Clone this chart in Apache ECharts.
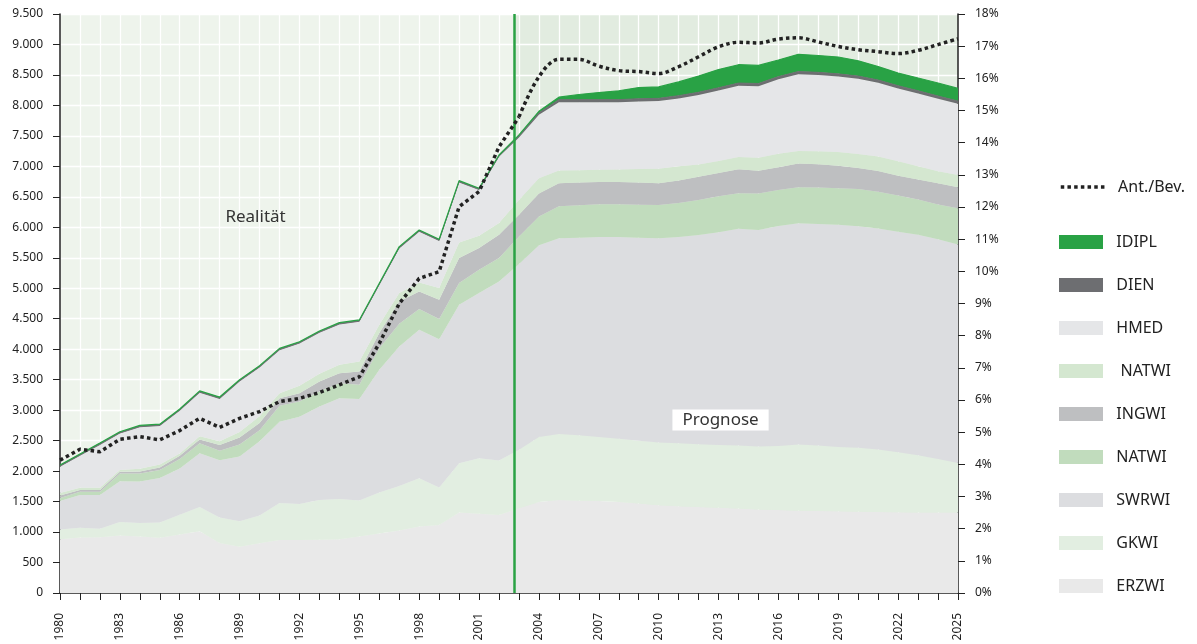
<!DOCTYPE html>
<html>
<head>
<meta charset="utf-8">
<script src="https://cdn.jsdelivr.net/npm/echarts@6/dist/echarts.min.js"></script>
<style>
html,body{margin:0;padding:0;background:#fff}
#main{width:1197px;height:644px}
</style>
</head>
<body>
<div id="main"></div>
<script>
var years = ['1980','1981','1982','1983','1984','1985','1986','1987','1988','1989',
	'1990','1991','1992','1993','1994','1995','1996','1997','1998','1999',
	'2000','2001','2002','2003','2004','2005','2006','2007','2008','2009',
	'2010','2011','2012','2013','2014','2015','2016','2017','2018','2019',
	'2020','2021','2022','2023','2024','2025'];

// stacked layers, bottom to top
var erzwi = [880,910,915,945,925,905,960,1015,820,760,
	815,870,870,875,880,925,975,1025,1090,1115,
	1320,1300,1280,1390,1495,1525,1515,1508,1495,1470,
	1440,1425,1410,1400,1385,1370,1360,1350,1345,1340,
	1335,1330,1325,1322,1320,1320];
var gkwi = [160,162,141,218,224,250,323,395,420,417,
	455,605,590,652,663,591,672,732,793,614,
	809,911,893,960,1065,1082,1075,1052,1035,1030,
	1029,1030,1030,1030,1035,1035,1050,1085,1075,1057,
	1049,1023,984,937,877,813];
var swrwi = [470,534,550,671,681,733,761,885,940,1063,
	1220,1335,1430,1533,1653,1669,2015,2288,2435,2436,
	2600,2710,2939,3050,3146,3212,3240,3280,3310,3330,
	3350,3385,3435,3490,3555,3550,3610,3632,3634,3645,
	3632,3626,3620,3619,3606,3583];
var natwiLow = [50,54,54,126,130,132,156,160,155,195,
	180,261,251,246,247,230,355,372,340,329,
	356,383,383,450,471,527,530,540,540,540,
	547,560,575,590,585,600,594,591,598,598,
	611,604,591,579,573,596];
var ingwi = [40,30,30,30,35,40,50,65,95,115,
	120,125,138,164,164,219,247,367,290,317,
	410,355,383,357,378,378,375,365,365,365,
	358,370,380,380,391,375,371,389,383,372,
	345,339,327,326,345,346];
var natwiUp = [40,35,35,30,45,50,40,50,60,90,
	110,83,120,126,137,164,137,137,147,192,
	257,203,192,243,251,207,200,199,205,220,
	238,230,200,200,203,210,224,207,213,224,
	232,238,238,220,200,201];
var hmed = [430,525,705,595,680,630,700,716,695,830,
	800,704,693,673,662,652,651,732,832,771,
	984,749,1087,1025,1039,1119,1115,1106,1100,1110,
	1109,1115,1141,1155,1168,1175,1219,1257,1250,1237,
	1232,1212,1193,1193,1188,1168];
var dien = [15,15,15,15,15,15,15,15,15,15,
	15,15,15,15,15,15,15,15,15,15,
	15,15,15,25,35,45,45,45,45,45,
	45,45,45,45,45,45,45,45,45,45,
	45,45,45,45,45,45];
var idipl = [15,15,15,15,15,15,15,15,15,15,
	15,15,15,15,15,15,15,15,15,15,
	15,15,15,16,23,40,84,115,146,182,
	188,226,265,298,301,296,272,282,276,276,
	250,220,208,209,214,207];
// Anteil an der Bevoelkerung in %
var antBev = [4.13,4.47,4.39,4.78,4.86,4.76,5.05,5.43,5.15,5.43,
	5.64,5.95,6.05,6.23,6.47,6.72,7.76,9.0,9.78,9.99,
	12.01,12.48,13.87,14.8,16.05,16.59,16.59,16.38,16.24,16.21,
	16.15,16.36,16.67,16.98,17.12,17.1,17.22,17.26,17.13,16.99,
	16.89,16.83,16.77,16.87,17.05,17.23];

var splitYear = 2002.75;
var lastReal = 23; // index of 2003, where the forecast starts

var layers = [
	['ERZWI', erzwi, '#e9e9e9'],
	['GKWI', gkwi, '#e2eee1'],
	['SWRWI', swrwi, '#dcdde0'],
	['NATWI', natwiLow, '#c1dcbd'],
	['INGWI', ingwi, '#bebfc1'],
	[' NATWI', natwiUp, '#d4e7d0'],
	['HMED', hmed, '#e5e6e8'],
	['DIEN', dien, '#6d6e71'],
	['IDIPL', idipl, '#29a245']
];

var series = [];
// background of the plot area (two shades), on the hidden value x axis
series.push({
	type: 'line', data: [], z: -1, silent: true, xAxisIndex: 1,
	markArea: {
		silent: true, z: -1,
		data: [
			[{xAxis: 1980, yAxis: 0, itemStyle: {color: '#eef4ec'}}, {xAxis: splitYear, yAxis: 9500}],
			[{xAxis: splitYear, yAxis: 0, itemStyle: {color: '#e2ece0'}}, {xAxis: 2025, yAxis: 9500}]
		]
	}
});
for (var k = 0; k < layers.length; k++){
	var lw = 0;
	if (layers[k][0] == 'IDIPL') lw = 1.2;
	if (layers[k][0] == 'DIEN') lw = 1;
	series.push({
		name: layers[k][0],
		type: 'line',
		stack: 'all',
		data: layers[k][1],
		symbol: 'none',
		lineStyle: {width: lw, color: layers[k][2]},
		itemStyle: {color: layers[k][2]},
		areaStyle: {color: layers[k][2], opacity: 1},
		z: 2
	});
}
var realPart = antBev.map(function(v, i){ return i <= lastReal ? v : '-'; });
var progPart = antBev.map(function(v, i){ return i >= lastReal ? v : '-'; });
var dotStyle = {color: '#222', width: 3.5, type: [3.5, 3.2]};
series.push({
	name: 'Ant./Bev.', type: 'line', yAxisIndex: 1,
	data: realPart, symbol: 'none',
	lineStyle: dotStyle, itemStyle: {color: '#222'}, z: 6
});
series.push({
	name: 'Ant./Bev.', type: 'line', yAxisIndex: 1, smooth: 0.35,
	data: progPart, symbol: 'none',
	lineStyle: dotStyle, itemStyle: {color: '#222'}, z: 6
});
// divider line and labels
series.push({
	type: 'line', data: [], z: 8, silent: true, xAxisIndex: 1,
	markLine: {
		silent: true, symbol: 'none',
		label: {show: false},
		lineStyle: {color: '#2aa244', width: 2.5, type: 'solid'},
		data: [{xAxis: splitYear}]
	},
	markPoint: {
		silent: true, symbol: 'rect', symbolSize: 0,
		data: [
			{coord: [1989.8, 6170], label: {show: true, formatter: 'Realität', fontSize: 17, color: '#333', fontFamily: 'Noto Sans'}},
			{coord: [2013.1, 2840], label: {show: true, formatter: 'Prognose', fontSize: 17, color: '#333', fontFamily: 'Noto Sans',
				backgroundColor: '#fff', padding: [2, 10, 2, 10]}}
		]
	}
});

function dotThousands(v){
	return String(v).replace(/\B(?=(\d{3})+(?!\d))/g, '.');
}

var axisCol = '#222';
var option = {
	animation: false,
	backgroundColor: '#fff',
	textStyle: {fontFamily: 'Noto Sans'},
	grid: {left: 60, right: 239, top: 14, bottom: 51},
	legend: [{
		orient: 'vertical', left: 1054, top: 174,
		itemWidth: 44, itemHeight: 14,
		data: ['Ant./Bev.'],
		formatter: '  {name}',
		itemStyle: {opacity: 0},
		lineStyle: {width: 3.5},
		textStyle: {fontSize: 16, color: '#222', lineHeight: 16},
		selectedMode: false
	}, {
		orient: 'vertical', left: 1054, top: 229,
		itemWidth: 44, itemHeight: 14, itemGap: 27, icon: 'rect',
		data: ['IDIPL', 'DIEN', 'HMED', ' NATWI', 'INGWI', 'NATWI', 'SWRWI', 'GKWI', 'ERZWI'],
		formatter: '  {name}',
		textStyle: {fontSize: 16, color: '#222', lineHeight: 16},
		selectedMode: false
	}],
	xAxis: [{
		type: 'category', data: years, boundaryGap: false,
		axisLine: {lineStyle: {color: axisCol, width: 1.5}},
		axisTick: {length: 7, interval: 0, lineStyle: {color: axisCol}},
		splitLine: {show: true, interval: 0, lineStyle: {color: '#fff', width: 1.3}},
		axisLabel: {rotate: 90, fontSize: 12, color: axisCol, margin: 20, interval: 2}
	}, {
		type: 'value', min: 1980, max: 2025, show: false
	}],
	yAxis: [{
		type: 'value', min: 0, max: 9500, interval: 500,
		axisLine: {show: true, lineStyle: {color: axisCol, width: 1.5}},
		axisTick: {show: true, length: 7, lineStyle: {color: axisCol}},
		splitLine: {show: true, lineStyle: {color: '#fff', width: 1.3}},
		axisLabel: {fontSize: 12, color: axisCol, margin: 17, formatter: dotThousands}
	}, {
		type: 'value', min: 0, max: 18, interval: 1, position: 'right',
		axisLine: {show: true, lineStyle: {color: axisCol, width: 1.5}},
		axisTick: {show: true, length: 7, lineStyle: {color: axisCol}},
		splitLine: {show: false},
		axisLabel: {fontSize: 12, color: axisCol, margin: 17, formatter: '{value}%'}
	}],
	series: series
};

var myChart = echarts.init(document.getElementById('main'));
myChart.setOption(option);
</script>
</body>
</html>
